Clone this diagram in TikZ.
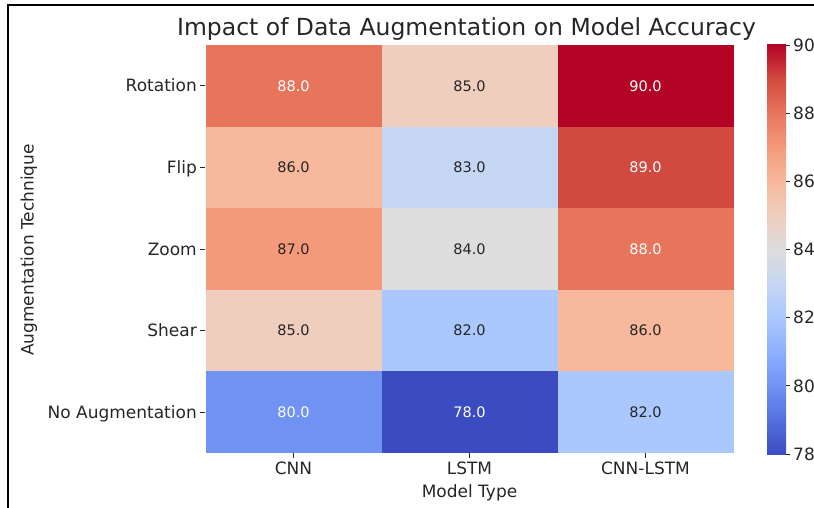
\documentclass[tikz,border=0pt]{standalone}
\usepackage{fontspec}
\setmainfont{DejaVu Sans}

% coolwarm, one colour per accuracy value
\definecolor{ink}{HTML}{262626}
\definecolor{cw78}{RGB}{59,76,192}
\definecolor{cw79}{RGB}{84,113,222}
\definecolor{cw80}{RGB}{112,146,243}
\definecolor{cw81}{RGB}{141,176,254}
\definecolor{cw82}{RGB}{170,199,254}
\definecolor{cw83}{RGB}{197,214,242}
\definecolor{cw84}{RGB}{221,221,221}
\definecolor{cw85}{RGB}{239,206,189}
\definecolor{cw86}{RGB}{247,184,156}
\definecolor{cw87}{RGB}{244,154,123}
\definecolor{cw88}{RGB}{231,117,92}
\definecolor{cw89}{RGB}{210,74,63}
\definecolor{cw90}{RGB}{180,4,38}

\begin{document}
\begin{tikzpicture}[x=1pt,y=-1pt,
    cell/.style={minimum width=176pt,minimum height=81.6pt,inner sep=0pt,font=\fontsize{14.5}{14.5}\selectfont},
    ticklabel/.style={text=ink,inner sep=0pt,font=\fontsize{17}{17}\selectfont},
    tickmark/.style={draw=ink,line width=0.8pt}]
    \useasboundingbox (0,0) rectangle (814,508);

    % frame
    \draw[line width=2pt] (8,508) -- (8,5) -- (814,5);

    % title
    \node[text=ink,inner sep=0pt,font=\fontsize{23.5}{23.5}\selectfont,anchor=base] (title) at (466.5,35.7) {Impact of Data Augmentation on Model Accuracy};

    % cells and row labels
    \foreach \row/\a/\b/\c [count=\i from 0] in {Rotation/88/85/90, Flip/86/83/89, Zoom/87/84/88, Shear/85/82/86, No Augmentation/80/78/82}{
        \pgfmathsetmacro\yc{45+81.6*\i+40.8}
        \foreach \v [count=\j from 0] in {\a,\b,\c}{
            \ifnum\v<81 \def\tc{white}\else\ifnum\v>87 \def\tc{white}\else\def\tc{ink}\fi\fi
            \node[cell,fill=cw\v,text=\tc] (c\i\j) at ({293.5+176*\j},\yc) {\v.0};
        }
        \node[ticklabel,anchor=base east] (row\i) at (197,\yc+6.2) {\row};
        \draw[tickmark] (200,\yc) -- (205,\yc);
    }

    % column labels
    \foreach \col/\x [count=\j from 0] in {CNN/293.5, LSTM/469.5, CNN-LSTM/645.5}{
        \node[ticklabel,anchor=north] (col\j) at (\x,461.5) {\col};
        \draw[tickmark] (\x,453) -- (\x,458);
    }

    % axis labels
    \node[ticklabel,anchor=north] (xlabel) at (469.5,484.5) {Model Type};
    \node[ticklabel,rotate=90] (ylabel) at (29,250) {Augmentation Technique};

    % colour bar
    \foreach \v [evaluate=\v as \w using int(\v+1)] in {78,...,89}{
        \shade[bottom color=cw\v,top color=cw\w] (767,{454-(\w-78)*409/12-0.3}) rectangle (786,{454-(\v-78)*409/12});
    }
    \foreach \v in {78,80,...,90}{
        \draw[tickmark] (786,{454-(\v-78)*409/12}) -- (790,{454-(\v-78)*409/12});
        \node[ticklabel,anchor=west] (cb\v) at (793,{454-(\v-78)*409/12}) {\v};
    }
\end{tikzpicture}
\end{document}
